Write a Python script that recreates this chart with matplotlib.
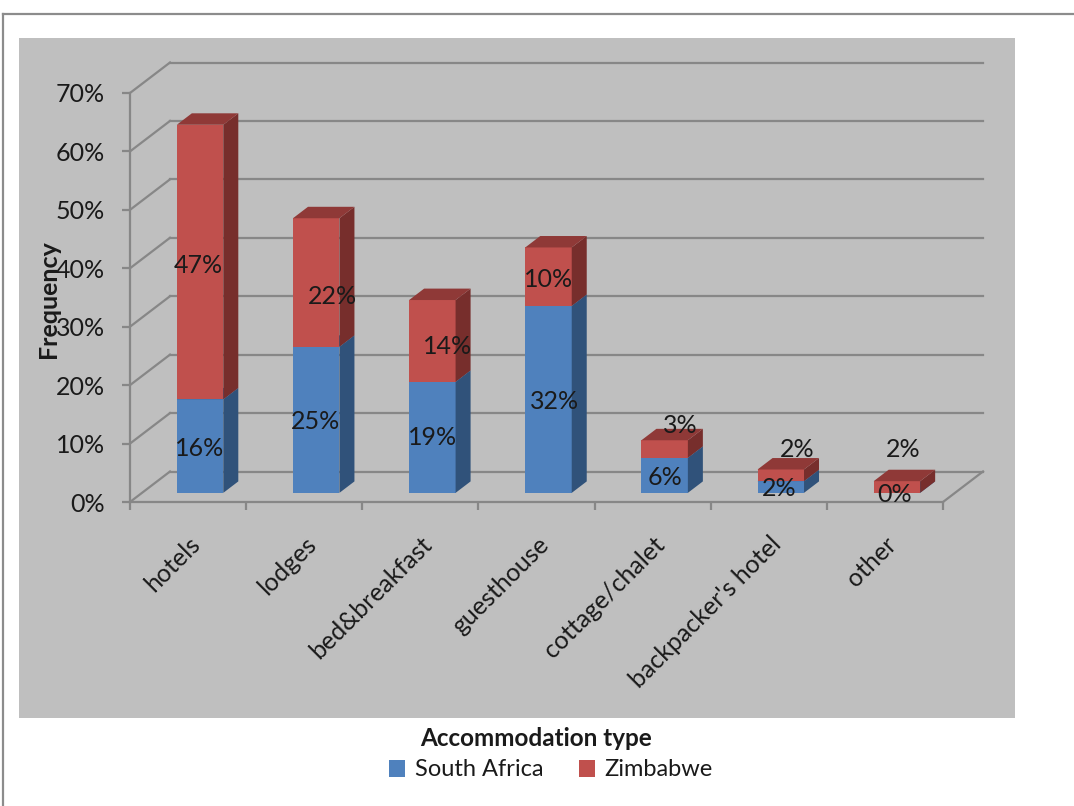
import matplotlib
matplotlib.use("Agg")
import matplotlib.pyplot as plt
from matplotlib.patches import Rectangle, Patch, Polygon
from matplotlib.lines import Line2D

# ---------------- data ----------------
categories = ["hotels", "lodges", "bed&breakfast", "guesthouse",
              "cottage/chalet", "backpacker's hotel", "other"]
south_africa = [16, 25, 19, 32, 6, 2, 0]
zimbabwe = [47, 22, 14, 10, 3, 2, 2]
series_names = ["South Africa", "Zimbabwe"]
y_ticks = [0, 10, 20, 30, 40, 50, 60, 70]

# label nudges (pixels, +x right, +y down) to mimic Excel's 3-D label placement
zw_label_nudge = [(-2, 3), (16, 14), (15, 6), (0, 3), (16, -24), (16, -26), (6, -38)]
sa_label_nudge = [(0, 2), (-1, 2), (0, 0), (6, 2), (0, 2), (-2, 1), (-2, 2)]

# ---------------- style ----------------
W, H = 1074, 806
FONT = "Lato"
plt.rcParams["font.family"] = [FONT, "DejaVu Sans"]
BG = "#BFBFBF"
GRID = "#878787"
TXT = "#1a1a1a"
FS = 18
col_front = {"sa": "#4F81BD", "zw": "#C0504D"}
col_side = {"sa": "#30527A", "zw": "#772E2C"}
col_top = {"sa": "#3D6597", "zw": "#8F3937"}

fig = plt.figure(figsize=(W / 100, H / 100), dpi=100)
fig.patch.set_facecolor("white")

def fx(px):
    return px / W

def fy(py):
    return 1 - py / H

# outer border (top and left edges visible)
fig.add_artist(Line2D([fx(3), fx(W + 5)], [fy(14), fy(14)], color="#8c8c8c", lw=1.6))
fig.add_artist(Line2D([fx(3), fx(3)], [fy(14), fy(H + 5)], color="#8c8c8c", lw=1.6))
# plot area background
fig.add_artist(Rectangle((fx(19), fy(718)), fx(1015) - fx(19), fy(38) - fy(718),
                         transform=fig.transFigure, facecolor=BG, edgecolor="none", zorder=0))

# front axes frame: x 130..943 px, y 502..93 px
ax = fig.add_axes([fx(130), fy(502), fx(943) - fx(130), fy(93) - fy(502)])
ax.set_facecolor("none")
n = len(categories)
ax.set_xlim(0, n)
ax.set_ylim(0, 70)

# depth projection (oblique): full floor depth = 40 px right, 30 px up
px_per_cat = (943 - 130) / n
px_per_pct = (502 - 93) / 70
DX = 40 / px_per_cat
DY = 30.5 / px_per_pct

for s in ["top", "right"]:
    ax.spines[s].set_visible(False)
for s in ["left", "bottom"]:
    ax.spines[s].set_color(GRID)
    ax.spines[s].set_linewidth(1.6)

ax.set_yticks(y_ticks)
ax.set_yticklabels([f"{v}%" for v in y_ticks], fontsize=FS, color=TXT)
ax.tick_params(axis="y", direction="out", length=6, width=1.6, color=GRID, pad=12)
ax.set_xticks(range(n + 1))
ax.set_xticklabels([])
ax.tick_params(axis="x", which="major", direction="out", length=6, width=1.6, color=GRID)
ax.set_xticks([i + 0.5 for i in range(n)], minor=True)
ax.set_xticklabels(categories, minor=True, rotation=45, ha="right",
                   rotation_mode="anchor", fontsize=FS, color=TXT)
ax.tick_params(axis="x", which="minor", length=0, pad=22)

# back wall gridlines + left side wall diagonals
for v in y_ticks:
    ax.plot([DX, n + DX], [v + DY, v + DY], color=GRID, lw=1.6, clip_on=False, zorder=1)
    ax.plot([0, DX], [v, v + DY], color=GRID, lw=1.6, clip_on=False, zorder=1)
# floor right edge
ax.plot([n, n + DX], [0, DY], color=GRID, lw=1.6, clip_on=False, zorder=1)

# bars
d0, d1 = 0.30, 0.675
bw = 0.40

def box(xl, xr, y0, y1, key, z):
    # front
    ax.add_patch(Polygon([(xl + d0 * DX, y0 + d0 * DY), (xr + d0 * DX, y0 + d0 * DY),
                          (xr + d0 * DX, y1 + d0 * DY), (xl + d0 * DX, y1 + d0 * DY)],
                         closed=True, facecolor=col_front[key], edgecolor="none",
                         clip_on=False, zorder=z))
    # right side
    ax.add_patch(Polygon([(xr + d0 * DX, y0 + d0 * DY), (xr + d1 * DX, y0 + d1 * DY),
                          (xr + d1 * DX, y1 + d1 * DY), (xr + d0 * DX, y1 + d0 * DY)],
                         closed=True, facecolor=col_side[key], edgecolor="none",
                         clip_on=False, zorder=z))
    # top
    ax.add_patch(Polygon([(xl + d0 * DX, y1 + d0 * DY), (xr + d0 * DX, y1 + d0 * DY),
                          (xr + d1 * DX, y1 + d1 * DY), (xl + d1 * DX, y1 + d1 * DY)],
                         closed=True, facecolor=col_top[key], edgecolor="none",
                         clip_on=False, zorder=z))

for i in range(n):
    c = i + 0.5
    xl, xr = c - bw / 2, c + bw / 2
    sa, zw = south_africa[i], zimbabwe[i]
    box(xl, xr, 0, sa, "sa", 3)
    box(xl, xr, sa, sa + zw, "zw", 4)
    fxc = c + d0 * DX
    nx, ny = sa_label_nudge[i]
    ax.annotate(f"{sa}%", (fxc, sa / 2 + d0 * DY), xytext=(nx, -ny),
                textcoords="offset pixels", ha="center", va="center",
                fontsize=FS, color=TXT, zorder=6, annotation_clip=False)
    nx, ny = zw_label_nudge[i]
    ax.annotate(f"{zw}%", (fxc, sa + zw / 2 + d0 * DY), xytext=(nx, -ny),
                textcoords="offset pixels", ha="center", va="center",
                fontsize=FS, color=TXT, zorder=6, annotation_clip=False)

# axis titles
fig.text(fx(48), fy(299), "Frequency", rotation=90, ha="center", va="center",
         fontsize=18, fontweight="bold", color=TXT)
fig.text(fx(536), fy(738), "Accommodation type", ha="center", va="center",
         fontsize=17.5, fontweight="bold", color=TXT)

handles = [Patch(facecolor=col_front["sa"], edgecolor="none"),
           Patch(facecolor=col_front["zw"], edgecolor="none")]
fig.legend(handles, series_names, loc="center", bbox_to_anchor=(fx(551), fy(770)),
           ncol=2, frameon=False, fontsize=17, handlelength=0.7, handleheight=0.7,
           handletextpad=0.4, columnspacing=1.5, labelcolor=TXT)

fig.savefig("out.png", dpi=100)
